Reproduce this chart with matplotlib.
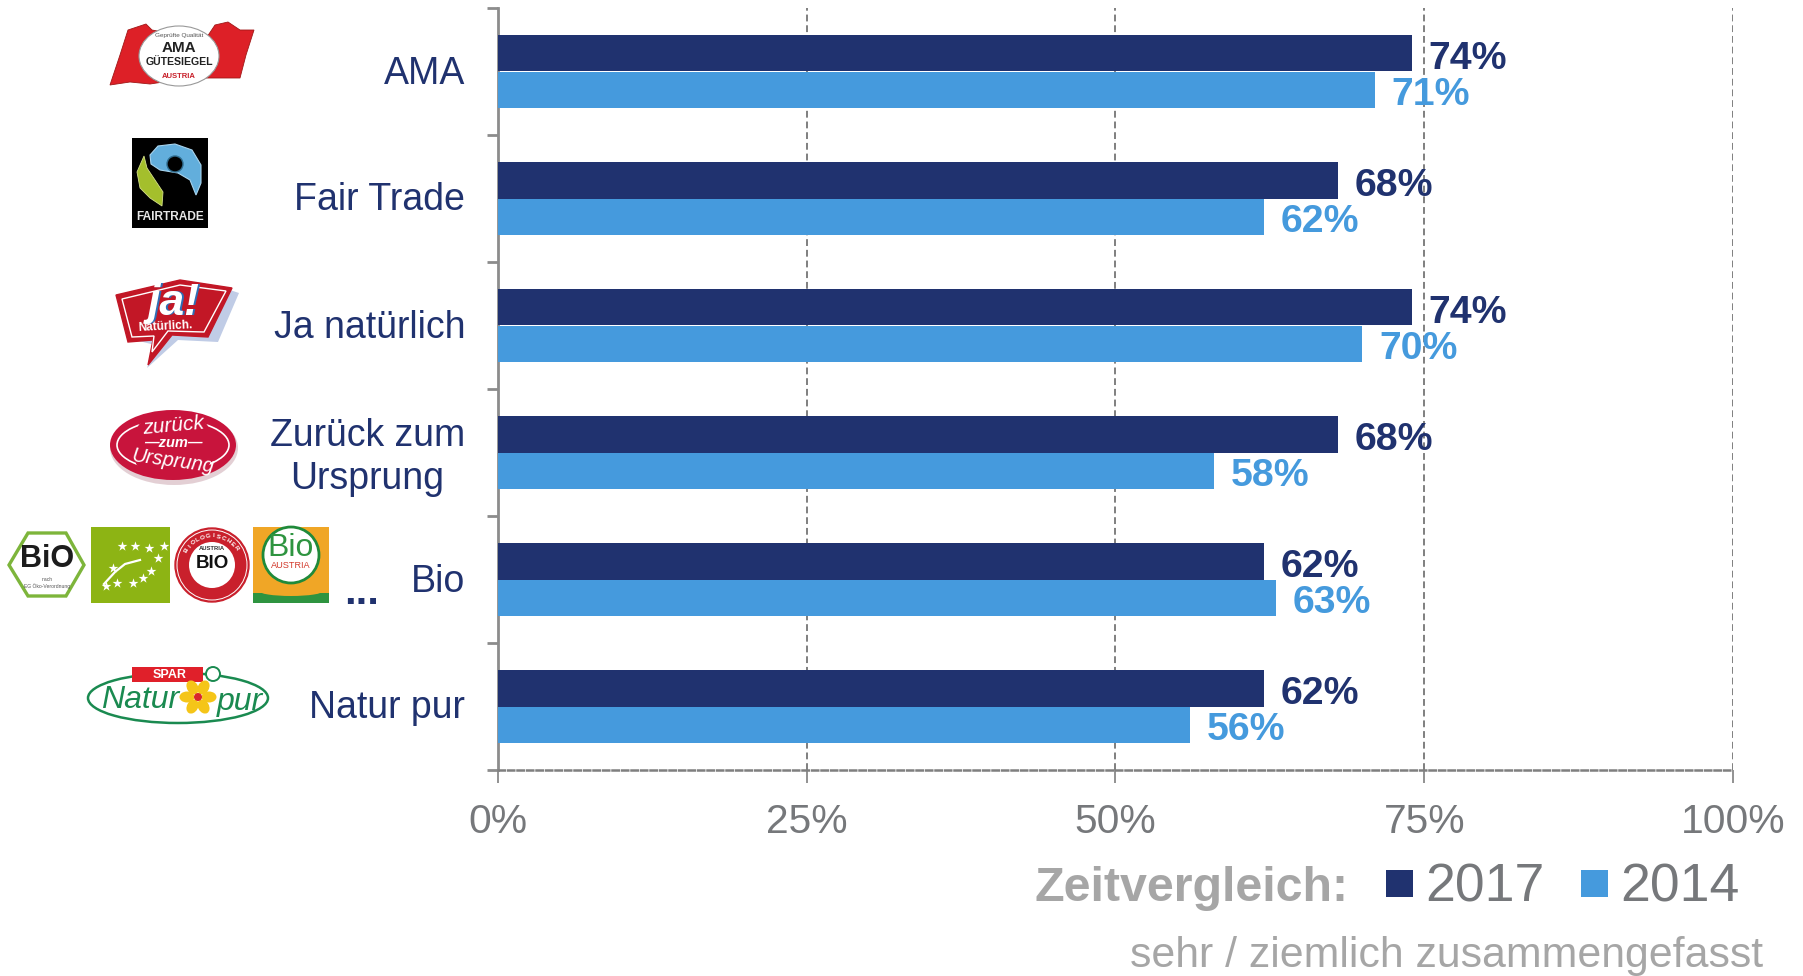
import numpy as np
import matplotlib
matplotlib.use("Agg")
from matplotlib import pyplot as plt
import matplotlib.patches as patches
from matplotlib.transforms import ScaledTranslation

plt.rcParams["font.family"] = ["Liberation Sans", "DejaVu Sans"]

categories = ["AMA", "Fair Trade", "Ja natürlich", "Zurück zum\nUrsprung", "Bio", "Natur pur"]
values_2017 = [74, 68, 74, 68, 62, 62]
values_2014 = [71, 62, 70, 58, 63, 56]
tick_values = [0, 25, 50, 75, 100]
tick_labels = ["0%", "25%", "50%", "75%", "100%"]
series_names = ["2017", "2014"]

NAVY = "#20326F"
BLUE = "#459ADD"
GREY = "#76787B"
LIGHT = "#A6A6A6"
GRID = "#7F7F7F"
W, H = 1803, 976

fig = plt.figure(figsize=(W / 100, H / 100), dpi=100, facecolor="white")
ax = fig.add_axes([498 / W, (H - 770) / H, 1235 / W, 762 / H])

# bars
y = np.arange(len(categories))
bar_h = 0.285
ax.barh(y - bar_h / 2, values_2017, bar_h, color=NAVY, zorder=3)
ax.barh(y + bar_h / 2, values_2014, bar_h, color=BLUE, zorder=3)
for i in y:
    ax.annotate(f"{values_2017[i]}%", (values_2017[i], i - bar_h / 2), xytext=(12, -4),
                textcoords="offset points", va="center", fontsize=28.3, fontweight="bold",
                color=NAVY, zorder=5)
    ax.annotate(f"{values_2014[i]}%", (values_2014[i], i + bar_h / 2), xytext=(12, -4),
                textcoords="offset points", va="center", fontsize=28.3, fontweight="bold",
                color=BLUE, zorder=5)

ax.set_xlim(0, 100)
ax.set_ylim(5.5, -0.5)
ax.set_xticks(tick_values)
ax.set_xticklabels(tick_labels, fontsize=29.3, color=GREY)
ax.tick_params(axis="x", length=9, width=1.2, color=GRID, pad=15)

# y ticks sit between the groups, labels go in the middle
ax.set_yticks(np.arange(-0.5, 6, 1))
ax.set_yticklabels([])
ax.set_yticks(y, minor=True)
ax.set_yticklabels(categories, minor=True, fontsize=27, color=NAVY, multialignment="center",
                   linespacing=1.22)
ax.tick_params(axis="y", which="minor", length=0, pad=23)
ax.tick_params(axis="y", which="major", length=8, width=2, color="#8C8C8C")
# nudge the category labels up a little
for t in ax.get_yticklabels(minor=True):
    t.set_transform(t.get_transform() + ScaledTranslation(-0.01, 0.02, fig.dpi_scale_trans))

ax.grid(axis="x", linestyle=(0, (3.5, 2)), linewidth=1.4, color=GRID, zorder=1)
ax.set_axisbelow(True)
for s in ["top", "right"]:
    ax.spines[s].set_visible(False)
ax.spines["left"].set_color("#8C8C8C")
ax.spines["left"].set_linewidth(2)
ax.spines["bottom"].set_color(GRID)
ax.spines["bottom"].set_linewidth(1.8)
ax.spines["bottom"].set_linestyle((0, (2.5, 1.3)))

# overlay in pixel coordinates for the logos and the legend
ov = fig.add_axes([0, 0, 1, 1], facecolor="none")
ov.set_xlim(0, W)
ov.set_ylim(H, 0)
ov.axis("off")


def label(x, y, s, size, color="white", **kw):
    kw.setdefault("ha", "center")
    kw.setdefault("va", "center")
    ov.text(x, y, s, fontsize=size, color=color, **kw)


def logo_ama():
    red = "#DD2027"
    left = [(110, 85), (120, 55), (128, 30), (146, 24), (152, 30), (178, 35), (190, 78), (150, 84), (130, 82)]
    right = [(195, 78), (205, 40), (215, 25), (228, 22), (240, 30), (254, 30), (246, 55), (240, 78)]
    ov.add_patch(patches.Polygon(left, fc=red, ec="#A01818", lw=0.6))
    ov.add_patch(patches.Polygon(right, fc=red, ec="#A01818", lw=0.6))
    ov.add_patch(patches.Ellipse((179, 56), 80, 60, fc="white", ec="#999999", lw=0.8))
    label(179, 48, "AMA", 11, "#222222", fontweight="bold")
    label(179, 62, "GÜTESIEGEL", 7.6, "#222222", fontweight="bold")
    label(179, 76, "AUSTRIA", 5.5, "#C8202A", fontweight="bold")
    label(179, 35, "Geprüfte Qualität", 4.6, "#555555")


def logo_fairtrade():
    ov.add_patch(patches.Rectangle((132, 138), 76, 90, fc="black"))
    blue = [(150, 155), (158, 146), (175, 144), (192, 150), (201, 165), (201, 183), (196, 195),
            (190, 180), (178, 173), (160, 170), (151, 164)]
    ov.add_patch(patches.Polygon(blue, fc="#62AEDC", ec="#A8D4EE", lw=0.8))
    ov.add_patch(patches.Circle((175, 164), 8, fc="black", ec="#2F6C8E", lw=1))
    leaf = [(144, 156), (137, 172), (140, 188), (150, 198), (162, 206), (163, 192), (155, 180), (147, 168)]
    ov.add_patch(patches.Polygon(leaf, fc="#A4BF2C", ec="#D5E08A", lw=0.6))
    label(170, 217, "FAIRTRADE", 8.6, "#E6E6E6", fontweight="bold")


def logo_ja():
    shadow = [(130, 295), (215, 285), (239, 293), (218, 342), (178, 340), (147, 368), (155, 345), (135, 340)]
    ov.add_patch(patches.Polygon(shadow, fc="#C0CCE6"))
    sign = [(116, 295), (180, 280), (232, 288), (208, 337), (172, 335), (148, 365), (153, 340), (128, 342)]
    ov.add_patch(patches.Polygon(sign, fc="#C21726", ec="#C21726", lw=1))
    inner = [(122, 299), (180, 285), (226, 291), (204, 332), (168, 331), (152, 352), (154, 336), (132, 337)]
    ov.add_patch(patches.Polygon(inner, fc="none", ec="white", lw=1))
    label(176, 304, "ja!", 32, "#2F6DB5", fontweight="bold", fontstyle="italic")
    label(174, 303, "ja!", 32, "white", fontweight="bold", fontstyle="italic")
    label(165, 327, "Natürlich.", 8.5, "white", fontweight="bold", rotation=3)


def logo_zurueck():
    ov.add_patch(patches.Ellipse((174, 448), 128, 74, fc="#DCC4CA", alpha=0.8))
    ov.add_patch(patches.Ellipse((173, 445), 126, 70, fc="#C8143C"))
    ov.add_patch(patches.Ellipse((173, 445), 112, 50, fc="none", ec="white", lw=1.2))
    ov.add_patch(patches.Ellipse((173, 427), 70, 20, fc="#C8143C"))
    ov.add_patch(patches.Ellipse((173, 463), 74, 20, fc="#C8143C"))
    label(173, 426, "zurück", 15, "white", fontstyle="italic", rotation=5)
    label(173, 443, "—zum—", 10.5, "white", fontstyle="italic", fontweight="bold")
    label(173, 461, "Ursprung", 14.5, "white", fontstyle="italic", rotation=-8)


def logo_bio():
    # hexagon
    hexa = [(9, 565), (28, 533), (66, 533), (84, 565), (66, 596), (28, 596)]
    ov.add_patch(patches.Polygon(hexa, fc="white", ec="#7DB53B", lw=2.4))
    label(47, 559, "BiO", 22, "#1C1C1C", fontweight="bold")
    label(47, 583, "nach\nEG Öko-Verordnung", 3.6, "#555555")
    # eu leaf
    ov.add_patch(patches.Rectangle((91, 527), 79, 76, fc="#8DB414"))
    stars_x = [122, 135, 149, 164, 158, 151, 143, 133, 117, 106, 113]
    stars_y = [546, 546, 548, 546, 558, 571, 578, 583, 583, 586, 568]
    ov.scatter(stars_x, stars_y, marker="*", s=55, c="white", linewidths=0, zorder=3)
    ov.plot([104, 115, 125, 140], [584, 572, 564, 560], color="white", lw=1.6)
    # red seal
    ov.add_patch(patches.Circle((212, 565), 37, fc="#C9202C", ec="#C9202C"))
    ov.add_patch(patches.Circle((212, 565), 35, fc="none", ec="white", lw=0.7))
    ov.add_patch(patches.Circle((212, 565), 23, fc="white"))
    label(212, 564, "BIO", 13.5, "#111111", fontweight="bold")
    label(212, 549, "AUSTRIA", 4.2, "#333333", fontweight="bold")
    for ch, ang in zip("BIOLOGISCHER", np.linspace(150, 35, 12)):
        a = np.radians(ang)
        label(212 + 29 * np.cos(a), 565 - 29 * np.sin(a), ch, 4.6, "white", fontweight="bold",
              rotation=ang - 90)
    # bio austria
    ov.add_patch(patches.Rectangle((253, 527), 76, 76, fc="#F0A626"))
    ov.add_patch(patches.Rectangle((253, 593), 76, 10, fc="#2E9440"))
    ov.add_patch(patches.Ellipse((291, 591), 64, 10, fc="#F0A626"))
    ov.add_patch(patches.Circle((291, 555), 28, fc="white", ec="#1F8A3A", lw=2))
    label(291, 548, "Bio", 23, "#2E9440")
    label(291, 565, "AUSTRIA", 6.6, "#D2392B")
    # dots after the logos
    label(362, 604, "...", 30, NAVY, fontweight="bold", va="baseline")


def logo_natur():
    ov.add_patch(patches.Ellipse((178, 698), 180, 50, fc="white", ec="#1A8A50", lw=1.8))
    ov.add_patch(patches.Rectangle((132, 667), 71, 15, fc="#E0202A"))
    label(170, 675, "SPAR", 9, "white", fontweight="bold")
    ov.add_patch(patches.Circle((213, 674), 7, fc="white", ec="#1A8A50", lw=1.4))
    label(140, 700, "Natur", 23, "#1A8A50", fontstyle="italic")
    label(240, 702, "pur", 23, "#1A8A50", fontstyle="italic")
    for a in np.radians(np.arange(0, 360, 60)):
        ov.add_patch(patches.Ellipse((198 + 11 * np.cos(a), 697 - 11 * np.sin(a)), 15, 11,
                                     angle=-np.degrees(a), fc="#F5C518"))
    ov.add_patch(patches.Circle((198, 697), 4, fc="#D8262C"))


logo_ama()
logo_fairtrade()
logo_ja()
logo_zurueck()
logo_bio()
logo_natur()

# legend
label(1034, 901, "Zeitvergleich:", 34.8, LIGHT, fontweight="bold", ha="left", va="baseline")
ov.add_patch(patches.Rectangle((1386, 870), 27, 27, fc=NAVY))
ov.add_patch(patches.Rectangle((1581, 870), 27, 27, fc=BLUE))
label(1425, 901, series_names[0], 38.5, GREY, ha="left", va="baseline")
label(1620, 901, series_names[1], 38.5, GREY, ha="left", va="baseline")
label(1763, 967, "sehr / ziemlich zusammengefasst", 30.8, LIGHT, ha="right", va="baseline")

fig.savefig("out.png", dpi=100, facecolor="white")
